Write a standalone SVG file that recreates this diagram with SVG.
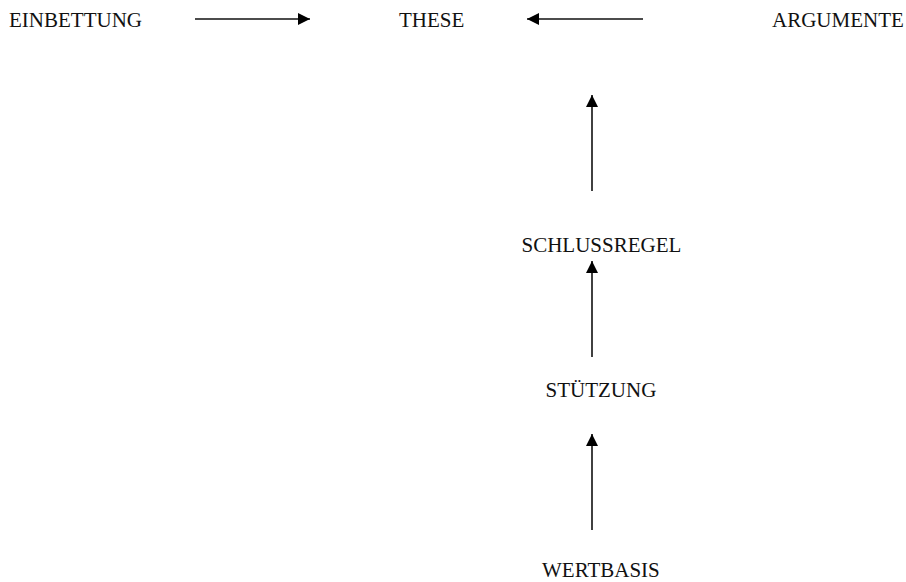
<svg xmlns="http://www.w3.org/2000/svg" width="906" height="582" viewBox="0 0 906 582">
  <style>
    .lbl { font-family: "Liberation Serif", "Times New Roman", serif; font-size: 21px; fill: #111; }
    .con { stroke: #111; stroke-width: 1.6; fill: none; marker-end: url(#head); }
  </style>
  <defs>
    <marker id="head" viewBox="0 0 12 12" markerWidth="12" markerHeight="12" refX="12" refY="6" orient="auto" markerUnits="userSpaceOnUse">
      <path d="M0,0 L12,6 L0,12 z" fill="#000"/>
    </marker>
  </defs>
  <rect width="906" height="582" fill="#fff"/>

  <g id="einbettung"><text class="lbl" x="9" y="26.5">EINBETTUNG</text></g>
  <g id="these"><text class="lbl" x="399" y="26.5">THESE</text></g>
  <g id="argumente"><text class="lbl" x="772" y="26.5">ARGUMENTE</text></g>
  <g id="schlussregel"><text class="lbl" x="521.5" y="252">SCHLUSSREGEL</text></g>
  <g id="stuetzung"><text class="lbl" x="545.5" y="397">STÜTZUNG</text></g>
  <g id="wertbasis"><text class="lbl" x="542" y="577">WERTBASIS</text></g>

  <g id="connectors">
    <line class="con" x1="195" y1="19" x2="310" y2="19"/>
    <line class="con" x1="643" y1="19" x2="527" y2="19"/>
    <line class="con" x1="592" y1="191" x2="592" y2="95"/>
    <line class="con" x1="592" y1="357" x2="592" y2="261"/>
    <line class="con" x1="592" y1="530" x2="592" y2="434"/>
  </g>
</svg>
